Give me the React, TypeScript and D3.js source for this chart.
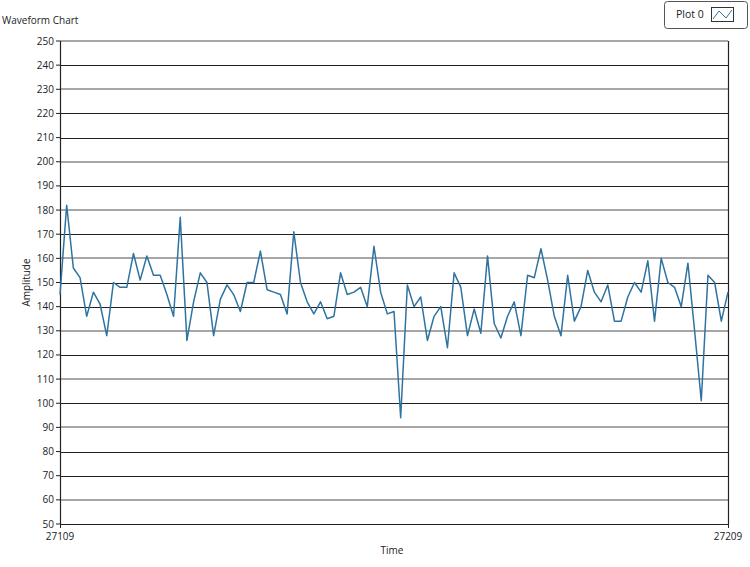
import React from "react";
import * as d3 from "d3";

const xStart = 27109;
const amplitudes: number[] = [
  145, 182, 156, 152, 136, 146, 141, 128, 150, 148,
  148, 162, 151, 161, 153, 153, 145, 136, 177, 126,
  142, 154, 150, 128, 143, 149, 145, 138, 150, 150,
  163, 147, 146, 145, 137, 171, 150, 142, 137, 142,
  135, 136, 154, 145, 146, 148, 140, 165, 146, 137,
  138, 94, 149, 140, 144, 126, 136, 140, 123, 154,
  148, 128, 139, 129, 161, 133, 127, 136, 142, 128,
  153, 152, 164, 151, 136, 128, 153, 134, 140, 155,
  146, 142, 149, 134, 134, 144, 150, 146, 159, 134,
  160, 150, 148, 140, 158, 130, 101, 153, 150, 134,
  146,
];
const yTicks: number[] = d3.range(50, 251, 10);
const xTicks: number[] = [27109, 27209];
const title = "Waveform Chart";
const legendLabel = "Plot 0";
const xLabel = "Time";
const yLabel = "Amplitude";

const W = 750;
const H = 567;
const left = 60;
const right = 728;
const top = 41;
const bottom = 524;
const font = "'Open Sans', 'Noto Sans', sans-serif";
// grid lines that appear soft (anti-aliased) in the reference rendering
const softGrid = new Set([250, 230, 200, 180, 160, 130, 110, 90, 60]);

export default function App() {
  const x = d3.scaleLinear().domain([xStart, xStart + amplitudes.length - 1]).range([left, right]);
  const y = d3.scaleLinear().domain([50, 250]).range([bottom, top]);
  const line = d3
    .line<number>()
    .x((_, i) => x(xStart + i))
    .y((d) => y(d));

  return (
    <svg
      width={W}
      height={H}
      style={{ position: "absolute", left: 0, top: 0, background: "#fff" }}
      fontFamily={font}
    >
      <rect x={0} y={0} width={W} height={H} fill="#fff" />
      <text x={2} y={24} fontSize={10} fill="#222">{title}</text>

      {/* legend */}
      <rect x={664.5} y={1.5} width={83} height={27} rx={3} fill="#fff" stroke="#555" strokeWidth={1} />
      <text x={676} y={18} fontSize={10.5} fill="#222">{legendLabel}</text>
      <rect x={711.5} y={7.5} width={22} height={14} fill="#fff" stroke="#333" strokeWidth={1} />
      <path d="M713,19 L719,11 L726,18 L732,10" fill="none" stroke="#2f73a0" strokeWidth={1} />

      {/* grid */}
      {yTicks.map((t) => {
        const yy = Math.round(y(t)) + (softGrid.has(t) ? 0 : 0.5);
        return (
          <line
            key={"g" + t}
            x1={left}
            x2={right}
            y1={yy}
            y2={yy}
            stroke={softGrid.has(t) ? "#8a8a8a" : "#222"}
            strokeWidth={softGrid.has(t) ? 1.6 : 1}
          />
        );
      })}
      {/* frame */}
      <line x1={left + 0.5} x2={left + 0.5} y1={top} y2={bottom} stroke="#222" strokeWidth={1.2} />
      <line x1={right + 0.5} x2={right + 0.5} y1={top} y2={bottom} stroke="#222" strokeWidth={1.2} />
      <line x1={left} x2={right} y1={bottom + 0.5} y2={bottom + 0.5} stroke="#222" strokeWidth={1.2} />

      {/* y ticks */}
      {yTicks.map((t) => (
        <g key={"t" + t}>
          <line x1={left - 4} x2={left} y1={y(t)} y2={y(t)} stroke="#222" strokeWidth={1} />
          <text x={left - 6} y={y(t)} dy="0.35em" textAnchor="end" fontSize={10} fill="#222">
            {t}
          </text>
        </g>
      ))}
      {/* x ticks */}
      {xTicks.map((t) => (
        <g key={"x" + t}>
          <line x1={x(t) + 0.5} x2={x(t) + 0.5} y1={bottom} y2={bottom + 4} stroke="#222" strokeWidth={1} />
          <text x={x(t)} y={540} textAnchor="middle" fontSize={10} fill="#222">
            {t}
          </text>
        </g>
      ))}

      <text x={392} y={554} textAnchor="middle" fontSize={10} fill="#222">{xLabel}</text>
      <text
        transform={`translate(30, ${(top + bottom) / 2}) rotate(-90)`}
        textAnchor="middle"
        fontSize={10}
        fill="#222"
      >
        {yLabel}
      </text>

      <path d={line(amplitudes) ?? ""} fill="none" stroke="#2f73a0" strokeWidth={1.5} strokeLinejoin="round" />
    </svg>
  );
}
